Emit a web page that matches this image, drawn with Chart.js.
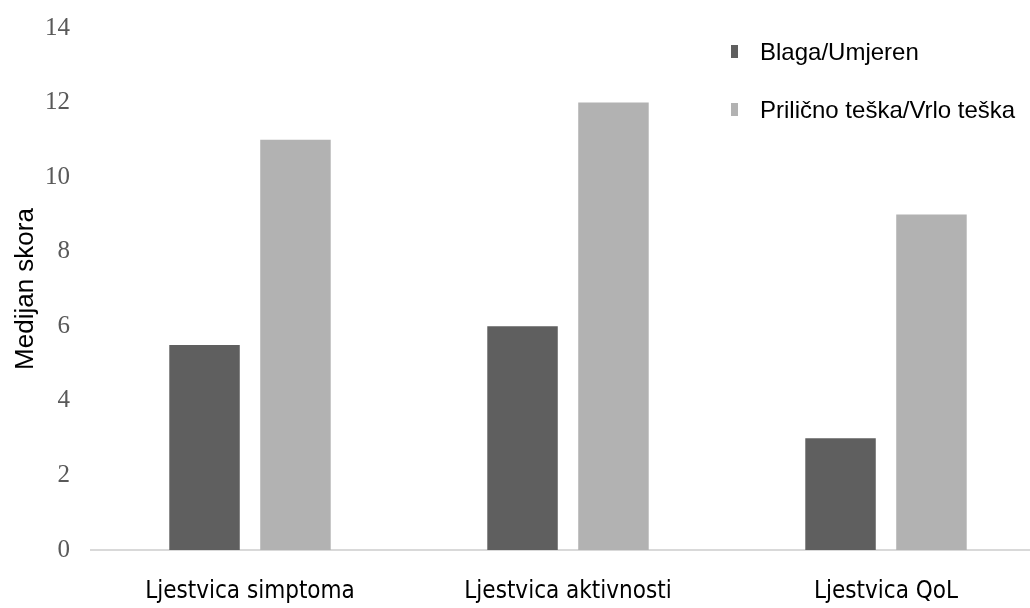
<!DOCTYPE html>
<html>
<head>
<meta charset="utf-8">
<script src="https://cdn.jsdelivr.net/npm/chart.js@4/dist/chart.umd.min.js"></script>
<style>
  html, body { margin: 0; padding: 0; background: #fff; overflow: hidden; }
  #wrap { position: relative; width: 1045px; height: 608px; }
</style>
</head>
<body>
<div id="wrap"><canvas id="chart"></canvas></div>
<script>
// ================= DATA =================
const categories = ["Ljestvica simptoma", "Ljestvica aktivnosti", "Ljestvica QoL"];
const blaga = [5.5, 6, 3];
const teska = [11, 12, 9];
const seriesNames = ["Blaga/Umjeren", "Prilično teška/Vrlo teška"];
const yTicks = [0, 2, 4, 6, 8, 10, 12, 14];

// ================= LEGEND (drawn on canvas) =================
const sideLegend = {
  id: "sideLegend",
  afterDraw(chart) {
    const ctx = chart.ctx;
    ctx.save();
    ctx.font = "24px 'Liberation Sans', Arial, sans-serif";
    ctx.textBaseline = "middle";
    chart.data.datasets.forEach((ds, i) => {
      const y = 52 + i * 58;
      ctx.fillStyle = ds.backgroundColor;
      ctx.fillRect(731, y - 7, 7, 13);
      ctx.fillStyle = "#000";
      ctx.fillText(ds.label, 760, y + 1);
    });
    ctx.restore();
  }
};

// ================= CHART =================
new Chart(document.getElementById("chart"), {
  type: "bar",
  data: {
    labels: categories,
    datasets: [
      { label: seriesNames[0], data: blaga, backgroundColor: "#5f5f5f" },
      { label: seriesNames[1], data: teska, backgroundColor: "#b2b2b2" }
    ]
  },
  options: {
    responsive: true,
    maintainAspectRatio: false,
    animation: false,
    categoryPercentage: 0.572,
    barPercentage: 0.775,
    layout: { padding: { top: 21, right: 0, left: 0, bottom: 0 } },
    plugins: {
      legend: { display: false },
      tooltip: { enabled: false }
    },
    scales: {
      x: {
        grid: { display: false },
        border: { color: "#d9d9d9", width: 2 },
        ticks: {
          color: "#000",
          padding: 19,
          font: { family: "'Liberation Sans Narrow', 'DejaVu Sans Condensed', sans-serif", size: 24 }
        },
        afterFit: s => { s.height = 58; }
      },
      y: {
        min: 0,
        max: 14,
        afterBuildTicks: s => { s.ticks = yTicks.map(v => ({ value: v })); },
        grid: { display: false },
        border: { display: false },
        ticks: {
          color: "#595959",
          padding: 13,
          font: { family: "'Liberation Serif', 'Times New Roman', serif", size: 25 }
        },
        title: {
          display: true,
          text: "Medijan skora",
          color: "#000",
          padding: { top: 10, bottom: 0 },
          font: { family: "'Liberation Sans', Arial, sans-serif", size: 26 }
        },
        afterFit: s => { s.width = 91; }
      }
    }
  },
  plugins: [sideLegend]
});
</script>
</body>
</html>
